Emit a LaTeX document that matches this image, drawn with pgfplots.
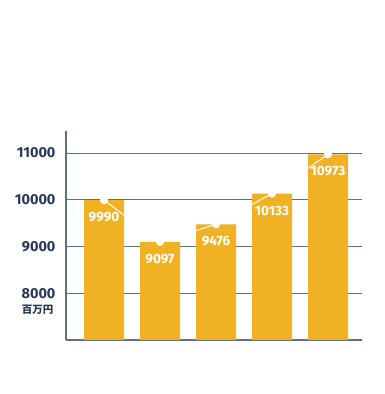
\documentclass[border=0pt]{standalone}
\usepackage{fontspec}
\setmainfont{Fira Sans}
\newfontfamily\cjk{Noto Sans CJK JP}
\usepackage{pgfplots}
\pgfplotsset{compat=1.18}
\definecolor{barc}{RGB}{240,178,35}
\definecolor{navy}{RGB}{40,55,90}
\definecolor{gridc}{RGB}{95,110,140}
\begin{document}
\begin{tikzpicture}
\path (0pt,0pt) rectangle (384pt,394pt);
\begin{axis}[at={(66pt,54pt)}, anchor=south west, scale only axis,
  width=296pt, height=209pt,
  xmin=0.321, xmax=5.607, ymin=7000, ymax=11471,
  axis x line=bottom, axis y line=left,
  axis line style={-, gridc, line width=1.2pt},
  xtick=\empty, ytick={8000,9000,10000,11000},
  scaled y ticks=false,
  ymajorgrids, grid style={gridc, line width=1pt},
  major tick length=0pt,
  yticklabel style={font=\bfseries\fontsize{14.5}{14.5}\selectfont, text=navy, xshift=-7pt},
  /pgf/number format/assume math mode=true,
  /pgf/number format/set thousands separator={},
  clip=false]
\addplot[ybar, bar width=0.714, fill=barc, draw=none,
  nodes near coords,
  every node near coord/.append style={anchor=center, yshift=-17pt, text=white, font=\bfseries\fontsize{13.5}{13.5}\selectfont},
  /pgf/number format/assume math mode=true,
  /pgf/number format/set thousands separator={}]
  coordinates {(1,9990) (2,9097) (3,9476) (4,10133) (5,10973)};
\addplot[white, line width=1pt, mark=*, mark size=3.5pt, mark options={fill=white, draw=white}]
  coordinates {(1,9990) (2,9097) (3,9476) (4,10133) (5,10973)};
\end{axis}
\node[anchor=east, font=\cjk\bfseries\fontsize{10.5}{10.5}\selectfont, text=navy] at (57pt,84pt) {百万円};
\end{tikzpicture}
\end{document}
